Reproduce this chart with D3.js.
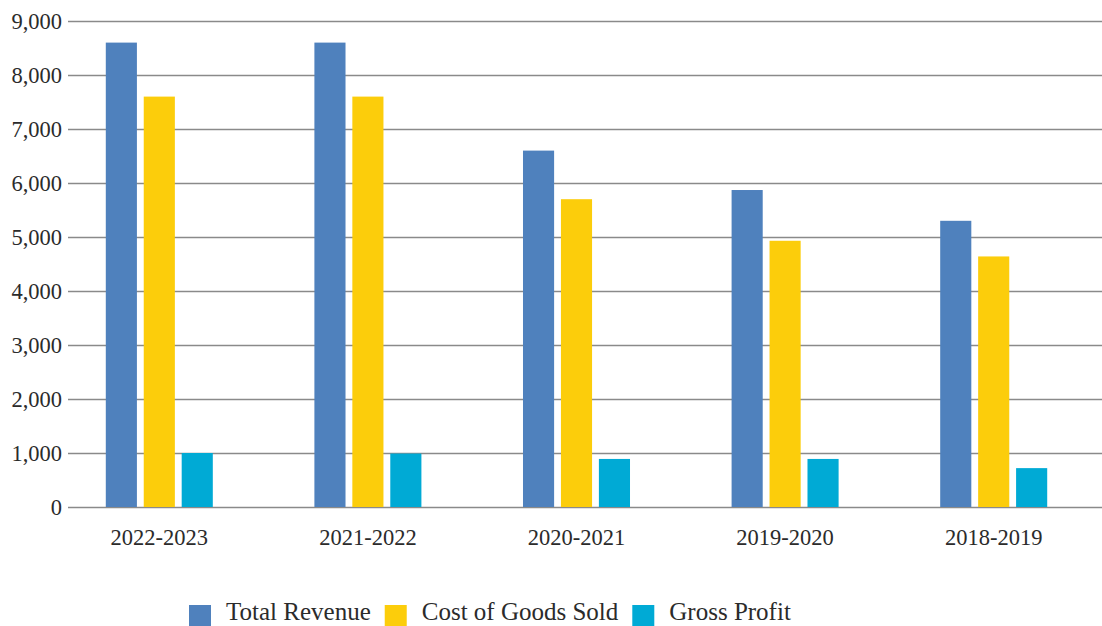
<!DOCTYPE html>
<html lang="en">
<head>
    <meta charset="UTF-8">
    <title>Revenue bar chart</title>
    <style>
        body { margin: 0; background: #fff; }
        svg { display: block; }
        text { font-family: "Liberation Serif", "DejaVu Serif", serif; }
        .grid line { stroke: #8a8a8a; stroke-width: 1.3; }
        .grid text, .xaxis text { fill: #2b2b2b; font-size: 22.5px; }
        .legend text { fill: #2b2b2b; font-size: 25px; }
    </style>
    <script src="https://d3js.org/d3.v7.min.js"></script>
</head>
<body>
<div class="chart"></div>
<script>
    // values
    const categories = ['2022-2023', '2021-2022', '2020-2021', '2019-2020', '2018-2019']
    const seriesNames = ['Total Revenue', 'Cost of Goods Sold', 'Gross Profit']
    const totalRevenue = [8600, 8600, 6600, 5870, 5300]
    const costOfGoods = [7600, 7600, 5700, 4930, 4640]
    const grossProfit = [1000, 990, 890, 890, 720]
    const yTicks = [0, 1000, 2000, 3000, 4000, 5000, 6000, 7000, 8000, 9000]
    const colors = ['#4f81bd', '#fccd0b', '#00aad5']

    const width = 1102, height = 626
    const plot = { left: 68, right: 1102, top: 21, bottom: 507 }

    const svg = d3.select('.chart').append('svg')
        .attr('width', width)
        .attr('height', height)

    const rows = categories.map((c, i) => ({
        cat: c,
        vals: [totalRevenue[i], costOfGoods[i], grossProfit[i]]
    }))

    const y = d3.scaleLinear()
        .domain([0, 9000])
        .range([plot.bottom, plot.top])

    const x0 = d3.scaleBand()
        .domain(categories)
        .range([55, 1098])
        .paddingInner(0.487)
        .paddingOuter(0.2435)

    const x1 = d3.scaleBand()
        .domain(seriesNames)
        .range([0, x0.bandwidth()])
        .paddingInner(0.18)

    // gridlines + y labels
    svg.append('g')
        .attr('class', 'grid')
        .attr('transform', `translate(${plot.left},0)`)
        .call(d3.axisLeft(y)
            .tickValues(yTicks)
            .tickFormat(d3.format(','))
            .tickSizeInner(-(plot.right - plot.left))
            .tickSizeOuter(0)
            .tickPadding(6))
        .call(g => g.attr('font-family', null).attr('font-size', null))
        .call(g => g.select('.domain').remove())

    // bars
    const groups = svg.append('g').selectAll('g')
        .data(rows)
        .join('g')
        .attr('transform', d => `translate(${x0(d.cat)},0)`)

    groups.selectAll('rect')
        .data(d => d.vals.map((v, i) => ({ name: seriesNames[i], v: v, i: i })))
        .join('rect')
        .attr('x', d => x1(d.name))
        .attr('width', x1.bandwidth())
        .attr('y', d => y(d.v))
        .attr('height', d => y(0) - y(d.v))
        .attr('fill', d => colors[d.i])

    // category labels
    svg.append('g')
        .attr('class', 'xaxis')
        .attr('transform', `translate(0,${plot.bottom})`)
        .call(d3.axisBottom(x0).tickSize(0).tickPadding(22))
        .call(g => g.attr('font-family', null).attr('font-size', null))
        .call(g => g.select('.domain').remove())

    // legend
    const legend = svg.append('g').attr('class', 'legend')
    let lx = 189
    seriesNames.forEach((name, i) => {
        legend.append('rect')
            .attr('x', lx).attr('y', 605)
            .attr('width', 22).attr('height', 21)
            .attr('fill', colors[i])
        const t = legend.append('text')
            .attr('x', lx + 37).attr('y', 620)
            .text(name)
        lx += 37 + t.node().getComputedTextLength() + 14
    })
</script>
</body>
</html>
